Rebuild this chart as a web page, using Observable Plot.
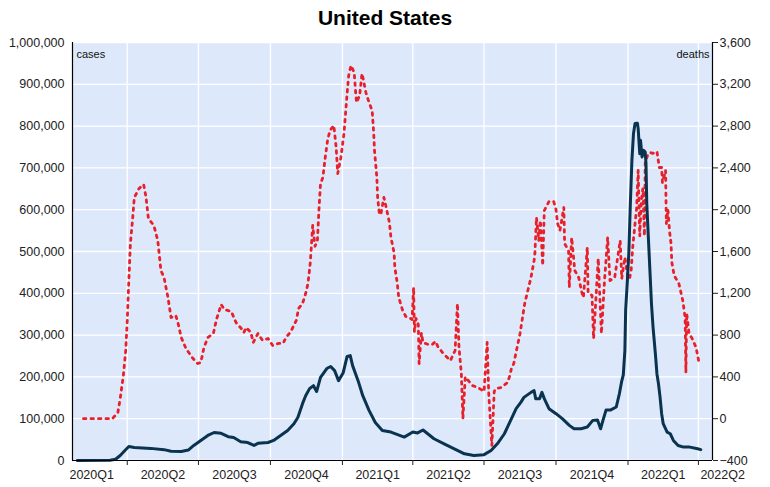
<!DOCTYPE html>
<html><head><meta charset="utf-8">
<script src="https://cdn.jsdelivr.net/npm/d3@7"></script>
<script src="https://cdn.jsdelivr.net/npm/@observablehq/plot@0.6"></script>
<style>
body{margin:0;background:#fff;font-family:"Liberation Sans",Arial,sans-serif;}
#title{width:770px;height:36px;text-align:center;font-weight:bold;font-size:21px;line-height:36px;color:#000;}
</style></head><body>
<div id="title">United States</div>
<div id="chart"></div>
<script>
const caseDates = ["2020-01-28","2020-03-10","2020-03-17","2020-03-23","2020-03-29","2020-04-03","2020-04-10","2020-05-01","2020-05-18","2020-05-27","2020-06-09","2020-06-18","2020-06-25","2020-07-04","2020-07-13","2020-07-21","2020-07-30","2020-08-08","2020-08-15","2020-08-24","2020-09-02","2020-09-10","2020-09-15","2020-09-28","2020-10-05","2020-10-14","2020-10-23","2020-10-31","2020-11-05","2020-11-11","2020-11-15","2020-11-20","2020-11-25","2020-11-29","2020-12-04","2020-12-12","2020-12-17","2020-12-22","2020-12-27","2021-01-02","2021-01-07","2021-01-11","2021-01-14","2021-01-21","2021-01-27","2021-02-04","2021-02-12","2021-02-21","2021-03-04","2021-03-21","2021-04-01","2021-04-07","2021-04-14","2021-04-20","2021-04-28","2021-05-11","2021-05-24","2021-06-06","2021-06-18","2021-07-01","2021-07-10","2021-07-18","2021-07-27","2021-08-04","2021-08-11","2021-08-17","2021-08-21","2021-08-30","2021-09-03","2021-09-05","2021-09-10","2021-09-13","2021-09-16","2021-09-22","2021-10-01","2021-10-09","2021-10-18","2021-10-24","2021-11-02","2021-11-10","2021-11-17","2021-11-23","2021-11-27","2021-11-30","2021-12-04","2021-12-10","2021-12-17","2021-12-21","2021-12-24","2021-12-26","2021-12-28","2021-12-29","2021-12-31","2022-01-02","2022-01-04","2022-01-06","2022-01-08","2022-01-10","2022-01-13","2022-01-14","2022-01-16","2022-01-17","2022-01-19","2022-01-21","2022-01-23","2022-01-24","2022-01-25","2022-01-27","2022-01-29","2022-01-31","2022-02-02","2022-02-05","2022-02-07","2022-02-09","2022-02-11","2022-02-13","2022-02-15","2022-02-20","2022-02-24","2022-02-28","2022-03-06","2022-03-13","2022-03-21","2022-03-31","2022-04-04"];
const caseValues = [0,800,3000,12000,24000,33500,31000,29000,26000,22000,21500,25000,36000,48000,60000,67000,65000,57000,55000,45000,43000,36000,41000,43000,48000,60000,72000,88000,103000,136000,155000,172000,179000,165000,199000,220000,225000,215000,191000,210000,249000,251000,227000,191000,155000,120000,91000,72000,68000,56000,68000,66000,73000,64000,52000,40000,28000,16000,12000,14000,24000,40000,64000,96000,124000,139000,151000,163000,167000,148000,148000,163000,148000,124000,112000,100000,84000,76000,76000,80000,96000,97000,76000,96000,121000,121000,128000,160000,190000,205000,263000,360000,423000,495000,614000,718000,782000,806000,807000,794000,734000,766000,726000,742000,738000,710000,614000,534000,455000,375000,319000,255000,207000,183000,151000,112000,88000,68000,64000,48000,36000,32000,32000,28000,26000];

const deathDates = ["2020-02-05","2020-03-13","2020-03-20","2020-03-23","2020-03-27","2020-03-30","2020-04-01","2020-04-03","2020-04-05","2020-04-08","2020-04-10","2020-04-16","2020-04-22","2020-04-25","2020-04-28","2020-05-05","2020-05-10","2020-05-14","2020-05-18","2020-05-23","2020-05-27","2020-06-02","2020-06-05","2020-06-09","2020-06-15","2020-06-24","2020-06-30","2020-07-04","2020-07-08","2020-07-13","2020-07-20","2020-07-24","2020-07-30","2020-08-03","2020-08-12","2020-08-18","2020-08-24","2020-08-28","2020-08-31","2020-09-06","2020-09-09","2020-09-15","2020-09-21","2020-09-28","2020-10-04","2020-10-11","2020-10-17","2020-10-21","2020-10-27","2020-11-03","2020-11-06","2020-11-11","2020-11-15","2020-11-18","2020-11-21","2020-11-24","2020-11-27","2020-11-30","2020-12-02","2020-12-04","2020-12-07","2020-12-10","2020-12-13","2020-12-16","2020-12-21","2020-12-24","2020-12-26","2020-12-30","2021-01-03","2021-01-07","2021-01-09","2021-01-12","2021-01-16","2021-01-18","2021-01-19","2021-01-23","2021-01-26","2021-01-28","2021-01-31","2021-02-04","2021-02-08","2021-02-10","2021-02-11","2021-02-14","2021-02-15","2021-02-17","2021-02-19","2021-02-23","2021-02-26","2021-03-02","2021-03-04","2021-03-08","2021-03-09","2021-03-12","2021-03-14","2021-03-19","2021-03-23","2021-03-29","2021-03-31","2021-04-02","2021-04-03","2021-04-05","2021-04-08","2021-04-09","2021-04-12","2021-04-14","2021-04-21","2021-04-26","2021-04-30","2021-05-03","2021-05-10","2021-05-19","2021-05-25","2021-05-28","2021-05-30","2021-06-02","2021-06-04","2021-06-07","2021-06-16","2021-06-23","2021-07-01","2021-07-05","2021-07-07","2021-07-11","2021-07-14","2021-07-16","2021-07-23","2021-07-31","2021-08-03","2021-08-05","2021-08-08","2021-08-12","2021-08-16","2021-08-19","2021-08-22","2021-08-26","2021-08-30","2021-09-03","2021-09-04","2021-09-06","2021-09-09","2021-09-11","2021-09-14","2021-09-16","2021-09-22","2021-09-28","2021-10-01","2021-10-03","2021-10-06","2021-10-11","2021-10-12","2021-10-17","2021-10-18","2021-10-21","2021-10-25","2021-10-30","2021-11-03","2021-11-05","2021-11-10","2021-11-11","2021-11-16","2021-11-18","2021-11-24","2021-11-26","2021-11-28","2021-12-02","2021-12-06","2021-12-09","2021-12-15","2021-12-22","2021-12-24","2021-12-28","2022-01-01","2022-01-03","2022-01-05","2022-01-07","2022-01-10","2022-01-12","2022-01-14","2022-01-16","2022-01-18","2022-01-20","2022-01-22","2022-01-23","2022-01-26","2022-01-29","2022-02-02","2022-02-07","2022-02-10","2022-02-13","2022-02-14","2022-02-18","2022-02-19","2022-02-21","2022-02-23","2022-02-25","2022-02-26","2022-03-01","2022-03-07","2022-03-12","2022-03-15","2022-03-16","2022-03-17","2022-03-20","2022-03-24","2022-03-29","2022-04-02"];
const deathValues = [0,0,59,193,413,652,940,1322,1676,1925,2117,2203,2241,2117,1916,1849,1705,1418,1351,1160,968,988,911,777,672,576,528,538,680,777,815,949,1093,1045,1026,920,870,825,873,825,729,815,748,767,700,720,720,777,834,940,1055,1102,1198,1294,1500,1849,1650,1700,2000,2250,2308,2499,2662,2758,2806,2595,2346,2499,2729,3112,3284,3380,3313,3112,3026,3093,3303,3236,3121,3026,2949,2729,2566,2308,2117,1973,1950,2117,2021,1878,1734,1590,1447,1303,1160,1035,978,959,950,1255,830,960,900,528,820,729,710,710,740,690,624,557,652,1102,680,433,2,400,318,299,260,729,241,-256,260,289,299,346,413,480,528,672,815,959,1102,1227,1351,1514,1581,1925,1705,1897,1466,1992,2078,2078,2000,1868,1801,2021,1676,1609,1255,1734,1418,1351,1207,1160,1638,1207,1180,767,1533,1160,815,1322,1734,1322,1351,1705,1341,1543,1341,1341,1418,1638,1868,2011,2375,1750,2088,2200,1750,2450,2520,2547,2540,2557,2404,2404,2260,2375,1868,2000,1801,1676,1500,1370,1294,1131,968,442,1007,815,767,681,528];

const caseTicks = [0,100000,200000,300000,400000,500000,600000,700000,800000,900000,1000000];
const deathTicks = [-400,0,400,800,1200,1600,2000,2400,2800,3200,3600];
const quarterLabels = ["2020Q1","2020Q2","2020Q3","2020Q4","2021Q1","2021Q2","2021Q3","2021Q4","2022Q1","2022Q2"];
const quarterBounds = ["2020-01-01","2020-04-01","2020-07-01","2020-10-01","2021-01-01","2021-04-01","2021-07-01","2021-10-01","2022-01-01","2022-04-01","2022-07-01"];
const xStart = "2020-01-22", xEnd = "2022-04-19";

const x0 = new Date(xStart), x1 = new Date(xEnd);
// deaths axis (-400..3600) mapped onto cases axis (0..1,000,000)
const toCases = d => (d + 400) * 250;
const fromCases = v => v / 250 - 400;
const cases = caseDates.map((d, i) => ({date: new Date(d), value: caseValues[i]}));
const deaths = deathDates.map((d, i) => ({date: new Date(d), value: toCases(deathValues[i])}));
const bounds = quarterBounds.map(d => new Date(d));
const qTicks = bounds.filter(d => d > x0 && d <= x1);
const qLabels = quarterLabels.map((lab, i) => {
  const s = bounds[i], e = bounds[i + 1];
  const mid = new Date((+s + +e) / 2);
  return {label: lab, mid, start: s, outside: mid > x1};
});
const midLabels = qLabels.filter(d => !d.outside);
const edgeLabels = qLabels.filter(d => d.outside);
const fmt = d3.format(",");

const chart = Plot.plot({
  width: 770, height: 451,
  marginLeft: 72, marginRight: 58, marginTop: 6, marginBottom: 27,
  style: {fontFamily: '"Liberation Sans", Arial, sans-serif', fontSize: "12.5px", color: "#222", background: "transparent"},
  x: {type: "utc", domain: [x0, x1]},
  y: {domain: [0, 1000000]},
  marks: [
    Plot.frame({fill: "#dde9fb", stroke: null}),
    Plot.gridY({ticks: caseTicks, stroke: "white", strokeOpacity: 1, strokeWidth: 1.3}),
    Plot.gridX({ticks: qTicks, stroke: "white", strokeOpacity: 1, strokeWidth: 1.3}),
    Plot.line(deaths, {x: "date", y: "value", stroke: "#e8202a", strokeWidth: 2.8, strokeDasharray: "2.5,5"}),
    Plot.line(cases, {x: "date", y: "value", stroke: "#0a3350", strokeWidth: 3}),
    Plot.ruleX([x0, x1], {stroke: "black", strokeWidth: 1.2}),
    Plot.ruleY([0], {stroke: "black", strokeWidth: 1.2}),
    Plot.axisY({anchor: "left", ticks: caseTicks, tickFormat: fmt, tickSize: 0, tickPadding: 8, label: null, fontSize: 12.5}),
    Plot.axisY({anchor: "right", ticks: deathTicks.map(toCases), tickFormat: v => fmt(Math.round(fromCases(v))), tickSize: 5, tickPadding: 2, label: null, fontSize: 12.5}),
    Plot.axisX({ticks: qTicks, tickFormat: () => "", tickSize: 5, label: null}),
    Plot.text(midLabels, {x: "mid", text: "label", frameAnchor: "bottom", dy: 14, lineAnchor: "middle", textAnchor: "middle", fontSize: 12.5, fill: "#222"}),
    Plot.text(edgeLabels, {x: "start", text: "label", frameAnchor: "bottom", dy: 14, dx: 2, lineAnchor: "middle", textAnchor: "start", fontSize: 12.5, fill: "#222"}),
    Plot.text(["cases"], {frameAnchor: "top-left", dx: 4, dy: 12, lineAnchor: "middle", textAnchor: "start", fontSize: 11, fill: "#111"}),
    Plot.text(["deaths"], {frameAnchor: "top-right", dx: -3, dy: 12, lineAnchor: "middle", textAnchor: "end", fontSize: 11, fill: "#111"})
  ]
});
document.getElementById("chart").appendChild(chart);
</script>
</body></html>
